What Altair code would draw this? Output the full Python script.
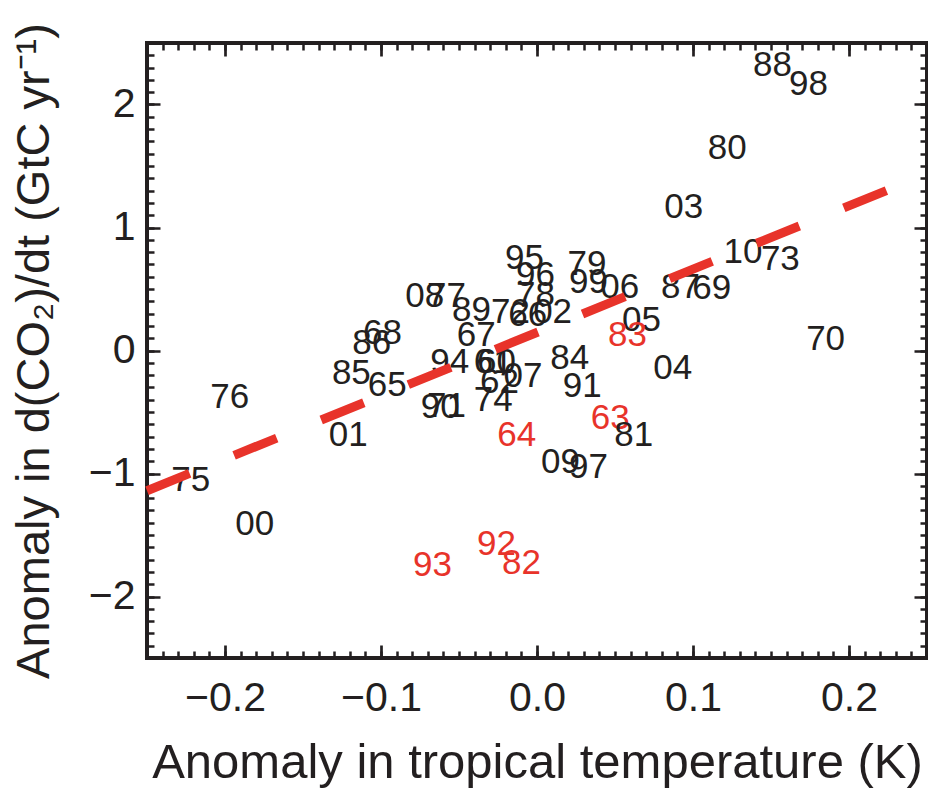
import altair as alt
import pandas as pd

# ---- data ----
years = ["88", "98", "80", "03", "10", "73", "87", "69", "70", "04",
         "05", "06", "79", "99", "83", "84", "91", "63", "81", "09",
         "97", "95", "96", "78", "89", "72", "66", "02", "08", "77",
         "67", "94", "60", "61", "07", "62", "74", "90", "71", "64",
         "68", "86", "85", "65", "01", "76", "75", "00", "93", "92", "82"]
temp_anom = [0.151, 0.174, 0.122, 0.094, 0.132, 0.156, 0.092, 0.112, 0.185, 0.087,
             0.067, 0.053, 0.032, 0.033, 0.058, 0.021, 0.029, 0.047, 0.062, 0.015,
             0.033, -0.008, -0.001, -0.001, -0.042, -0.017, -0.006, 0.010, -0.072, -0.058,
             -0.039, -0.056, -0.026, -0.028, -0.009, -0.024, -0.028, -0.062, -0.058, -0.013,
             -0.099, -0.106, -0.119, -0.096, -0.121, -0.197, -0.222, -0.181, -0.067, -0.026, -0.010]
co2_anom = [2.32, 2.17, 1.65, 1.17, 0.80, 0.74, 0.52, 0.51, 0.09, -0.14,
            0.25, 0.52, 0.70, 0.56, 0.13, -0.06, -0.29, -0.55, -0.69, -0.91,
            -0.95, 0.75, 0.61, 0.45, 0.33, 0.31, 0.29, 0.31, 0.44, 0.44,
            0.13, -0.09, -0.09, -0.09, -0.21, -0.26, -0.40, -0.46, -0.45, -0.69,
            0.14, 0.06, -0.18, -0.28, -0.69, -0.38, -1.05, -1.41, -1.74, -1.57, -1.73]
volcanic_years = ["63", "64", "82", "83", "92", "93"]

fit_x = [-0.25, 0.224]
fit_y = [-1.14, 1.30]

x_major = [-0.2, -0.1, 0.0, 0.1, 0.2]
y_major = [-2, -1, 0, 1, 2]
x_minor = [round(i * 0.01, 2) for i in range(-24, 25)]
y_minor = [round(i * 0.1, 1) for i in range(-24, 25)]

INK = "#231f20"
RED = "#e8332a"
FONT = "Liberation Sans"
W, H = 780, 615

df = pd.DataFrame({
    "year": years,
    "temp": temp_anom,
    "co2": co2_anom,
    "col": [RED if y in volcanic_years else INK for y in years],
})
fit = pd.DataFrame({"temp": fit_x, "co2": fit_y})

xscale = alt.Scale(domain=[-0.25, 0.25], nice=False, zero=False)
yscale = alt.Scale(domain=[-2.5, 2.5], nice=False, zero=False)

labels = alt.Chart(df).mark_text(
    font=FONT, fontSize=35, align="center", baseline="middle"
).encode(
    x=alt.X("temp:Q", scale=xscale,
            axis=alt.Axis(orient="bottom", values=x_major, format=".1f",
                          labelFont=FONT, labelFontSize=41, labelColor=INK,
                          labelPadding=20, labelFlush=False,
                          ticks=False, domain=False,
                          grid=True, gridColor=INK, gridWidth=2.7,
                          gridDash=[13, H - 26, 13], gridOpacity=1,
                          title="Anomaly in tropical temperature (K)",
                          titleFont=FONT, titleFontSize=49,
                          titleFontWeight="normal", titleColor=INK,
                          titlePadding=20)),
    y=alt.Y("co2:Q", scale=yscale,
            axis=alt.Axis(orient="left", values=y_major, format="d",
                          labelFont=FONT, labelFontSize=41, labelColor=INK,
                          labelPadding=12, labelFlush=False,
                          ticks=False, domain=False,
                          grid=True, gridColor=INK, gridWidth=2.7,
                          gridDash=[13, W - 26, 13], gridOpacity=1,
                          title="Anomaly in d(CO₂)/dt (GtC yr⁻¹)",
                          titleFont=FONT, titleFontSize=47,
                          titleFontWeight="normal", titleColor=INK,
                          titlePadding=30)),
    text="year:N",
    color=alt.Color("col:N", scale=None),
)

line = alt.Chart(fit).mark_line(
    color=RED, strokeWidth=9, strokeDash=[46, 48], strokeCap="butt"
).encode(
    x=alt.X("temp:Q", scale=xscale, title=None,
            axis=alt.Axis(orient="top", values=x_minor, labels=False,
                          ticks=False, domain=False,
                          grid=True, gridColor=INK, gridWidth=2.5,
                          gridDash=[7, H - 14, 7], gridOpacity=1)),
    y=alt.Y("co2:Q", scale=yscale, title=None,
            axis=alt.Axis(orient="right", values=y_minor, labels=False,
                          ticks=False, domain=False,
                          grid=True, gridColor=INK, gridWidth=2.5,
                          gridDash=[7, W - 14, 7], gridOpacity=1)),
)

chart = alt.layer(labels, line).resolve_axis(
    x="independent", y="independent"
).properties(
    width=W, height=H,
    autosize=alt.AutoSizeParams(type="none"),
    padding={"left": 147, "top": 43, "right": 1, "bottom": 133},
    background="white",
).configure_view(
    stroke=INK, strokeWidth=4
)

chart.save("out.html", embed_options={"renderer": "svg", "actions": False})
